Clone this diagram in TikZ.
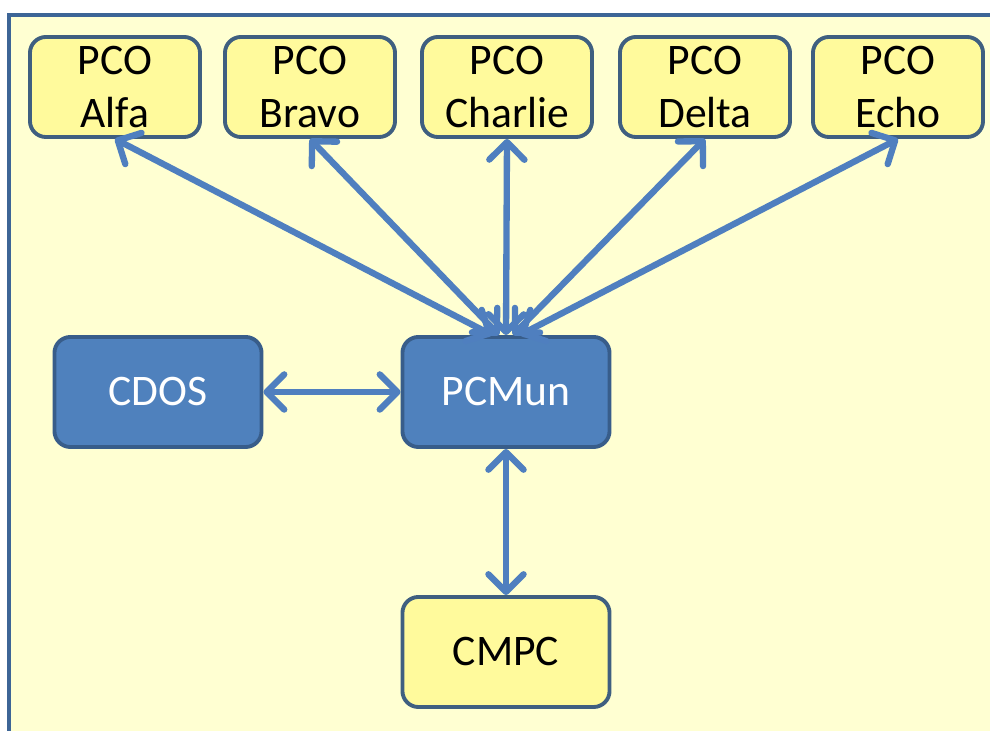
\documentclass[tikz,border=0pt]{standalone}
\usepackage{fontspec}
\setmainfont{Carlito}
\usetikzlibrary{arrows.meta}

\definecolor{paper}{HTML}{FFFFD2}
\definecolor{pcofill}{HTML}{FFFA9C}
\definecolor{pcoline}{HTML}{3F5F80}
\definecolor{hqfill}{HTML}{4F81BD}
\definecolor{hqline}{HTML}{385D8A}
\definecolor{linkblue}{HTML}{4F7FBF}
\definecolor{frameblue}{HTML}{3D6596}

\tikzset{
  pcobox/.style={draw=pcoline, fill=pcofill, line width=1.1pt, rounded corners=0.16cm,
    minimum width=1.7cm, minimum height=1.0cm, align=center, inner sep=0pt,
    font=\fontsize{12.4}{14.8}\selectfont},
  hqbox/.style={draw=hqline, fill=hqfill, line width=1.1pt, rounded corners=0.16cm,
    minimum width=2.07cm, minimum height=1.1cm, inner sep=0pt, text=white,
    font=\fontsize{12.4}{14.8}\selectfont},
  link/.style={draw=linkblue, line width=1.8pt, line cap=round,
    {Straight Barb[length=5pt,width=10pt,round]}-{Straight Barb[length=5pt,width=10pt,round]}}
}

\begin{document}
\begin{tikzpicture}[x=0.01cm, y=-0.01cm]
\useasboundingbox (0,0) rectangle (990,731);
\clip (0,0) rectangle (990,731);
\path [fill=white] (0,0) rectangle (990,731);
\path [fill=paper, draw=frameblue, line width=1pt] (9,15) rectangle (1000,745);

% top row
\foreach \name/\x in {Alfa/115,Bravo/310,Charlie/507,Delta/705,Echo/898} {
  \node [pcobox] (\name) at (\x,87) {PCO\\\name};
}

\node [hqbox] (CDOS) at (158,392) {CDOS};
\node [hqbox] (PCMun) at (506,392) {PCMun};
\node [pcobox, minimum width=2.07cm, minimum height=1.1cm] (CMPC) at (506,652) {CMPC};

\foreach \name/\dx in {Alfa/-14,Bravo/-7,Charlie/0,Delta/7,Echo/14} {
  \draw [link] (\name.south) -- ([xshift=\dx*0.01cm]PCMun.north);
}
\draw [link] (CDOS.east) -- (PCMun.west);
\draw [link] (PCMun.south) -- (CMPC.north);
\end{tikzpicture}
\end{document}
